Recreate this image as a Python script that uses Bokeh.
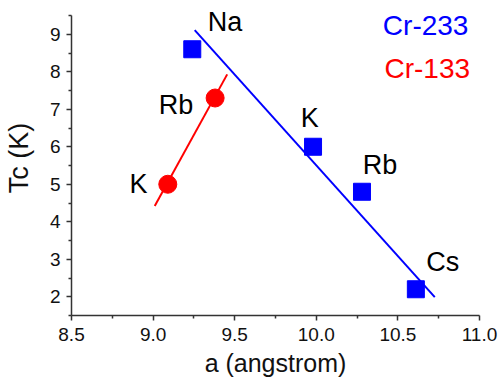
from bokeh.plotting import figure
from bokeh.models import FixedTicker, PrintfTickFormatter, Range1d, Label
from bokeh.embed import file_html
from bokeh.resources import INLINE

# data
a_233 = [9.24, 9.98, 10.28, 10.61]
tc_233 = [8.6, 6.0, 4.8, 2.2]
a_133 = [9.09, 9.38]
tc_133 = [5.0, 7.3]
fit233_x = [9.255, 10.726]
fit233_y = [9.11, 1.99]
fit133_x = [9.01, 9.454]
fit133_y = [4.42, 7.93]

lab_text = ["Na", "K", "Rb", "Cs", "Rb", "K"]
lab_x = [9.44, 9.96, 10.39, 10.775, 9.14, 8.91]
lab_y = [9.32, 6.77, 5.52, 2.94, 7.11, 5.02]

legend_text = ["Cr-233", "Cr-133"]
legend_x = [10.67, 10.68]
legend_y = [9.24, 8.09]
legend_col = ["#0000FF", "#FF0000"]

x_ticks = [8.5, 9.0, 9.5, 10.0, 10.5, 11.0]
x_minor = [8.75, 9.25, 9.75, 10.25, 10.75]
y_ticks = [2, 3, 4, 5, 6, 7, 8, 9]
y_minor = [1.5, 2.5, 3.5, 4.5, 5.5, 6.5, 7.5, 8.5, 9.5]

FONT = "Liberation Sans"

# frame extends a little above the axis end (9.5) so labels near the top are not clipped
p = figure(width=500, height=379, output_backend="svg", toolbar_location=None,
           x_range=Range1d(8.5, 11.0), y_range=Range1d(1.5, 9.9),
           min_border_left=71, min_border_right=21, min_border_top=0, min_border_bottom=63)
p.outline_line_color = None
p.xgrid.visible = False
p.ygrid.visible = False
p.yaxis.bounds = (1.5, 9.5)

for ax in (p.xaxis[0], p.yaxis[0]):
    ax.axis_line_color = "#333333"
    ax.axis_line_width = 1.5
    ax.major_tick_line_color = "#333333"
    ax.minor_tick_line_color = "#333333"
    ax.major_tick_line_width = 1.5
    ax.minor_tick_line_width = 1.5
    ax.major_tick_out = 5
    ax.major_tick_in = 0
    ax.minor_tick_out = 3
    ax.minor_tick_in = 0
    ax.major_label_text_font = FONT
    ax.major_label_text_font_size = "19px"
    ax.major_label_text_color = "#111111"
    ax.axis_label_text_font = FONT
    ax.axis_label_text_font_style = "normal"
    ax.axis_label_text_color = "#111111"

p.xaxis.ticker = FixedTicker(ticks=x_ticks, minor_ticks=x_minor)
p.yaxis.ticker = FixedTicker(ticks=y_ticks, minor_ticks=y_minor)
p.xaxis.formatter = PrintfTickFormatter(format="%.1f")
p.yaxis.formatter = PrintfTickFormatter(format="%d")
p.xaxis.axis_label = "a (angstrom)"
p.yaxis.axis_label = "Tc (K)"
p.xaxis.axis_label_text_font_size = "25px"
p.yaxis.axis_label_text_font_size = "27px"
p.xaxis.major_label_standoff = 7
p.yaxis.major_label_standoff = 6
p.xaxis.axis_label_standoff = 5
p.yaxis.axis_label_standoff = 13

p.line(fit233_x, fit233_y, line_color="#0000FF", line_width=2)
p.line(fit133_x, fit133_y, line_color="#FF0000", line_width=2)
p.scatter(a_233, tc_233, marker="square", size=17, fill_color="#0000FF", line_color="#0000FF")
p.scatter(a_133, tc_133, marker="circle", size=18, fill_color="#FF0000", line_color="#FF0000")

for t, x, y in zip(lab_text, lab_x, lab_y):
    p.add_layout(Label(x=x, y=y, text=t, text_font=FONT, text_font_size="27px",
                       text_align="center", text_baseline="middle", text_color="#000000"))
for t, x, y, c in zip(legend_text, legend_x, legend_y, legend_col):
    p.add_layout(Label(x=x, y=y, text=t, text_font=FONT, text_font_size="28px",
                       text_align="center", text_baseline="middle", text_color=c))

open("out.html", "w").write(file_html(p, INLINE))
